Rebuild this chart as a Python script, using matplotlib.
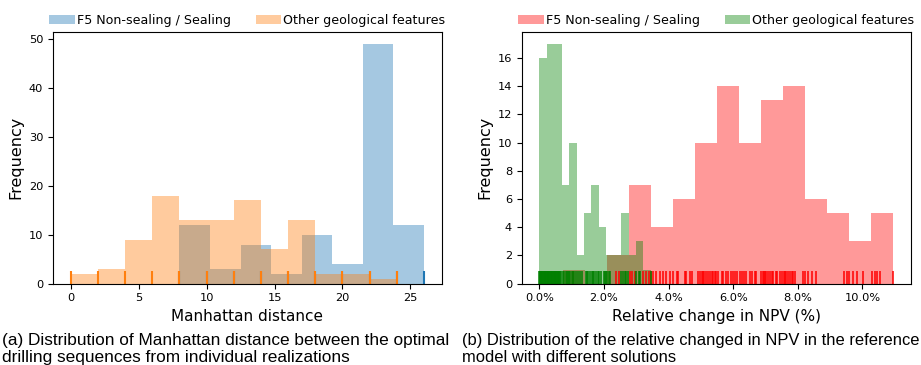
import matplotlib
matplotlib.use("Agg")
import matplotlib.pyplot as plt
from matplotlib.ticker import FuncFormatter
import numpy as np

# --- (a) Manhattan distance: histogram bins and counts
manh_f5_edges = [8, 10.25, 12.5, 14.75, 17, 19.25, 21.5, 23.75, 26]
manh_f5_counts = [12, 3, 8, 2, 10, 4, 49, 12]
manh_oth_edges = [0, 2, 4, 6, 8, 10, 12, 14, 16, 18, 20, 22, 24]
manh_oth_counts = [2, 3, 9, 18, 13, 13, 17, 7, 13, 2, 2, 1]
# rug positions (distinct values seen)
manh_f5_rug = [8, 10, 12, 14, 16, 18, 20, 22, 24, 26]
manh_oth_rug = [0, 2, 4, 6, 8, 10, 12, 14, 16, 18, 20, 22, 24]

# --- (b) relative change in NPV (%)
npv_f5_edges = [0.73, 1.41, 2.09, 2.77, 3.45, 4.13, 4.81, 5.50, 6.18,
                6.86, 7.54, 8.22, 8.91, 9.60, 10.28, 10.96]
npv_f5_counts = [1, 0, 2, 7, 4, 6, 10, 14, 10, 13, 14, 6, 5, 3, 5]
npv_oth_edges = [0.0, 0.23, 0.46, 0.69, 0.92, 1.15, 1.38, 1.61, 1.84,
                 2.07, 2.30, 2.53, 2.76, 2.99, 3.22, 3.45]
npv_oth_counts = [16, 17, 17, 7, 10, 2, 5, 7, 4, 2, 2, 5, 2, 3, 1]

npv_f5_rug = [1.05, 2.38, 2.46, 2.79, 2.87, 2.95, 3.22, 3.31, 3.38, 3.45,
              3.52, 3.62, 3.72, 3.83, 3.93, 4.03, 4.14, 4.26, 4.30, 4.50,
              4.55, 4.67, 4.74, 4.91, 4.98, 5.03, 5.07, 5.11, 5.15, 5.22,
              5.29, 5.34, 5.38, 5.43, 5.48, 5.54, 5.64, 5.69, 5.77, 5.84,
              5.92, 5.98, 6.05, 6.12, 6.20, 6.26, 6.33, 6.41, 6.51, 6.57,
              6.67, 6.72, 6.85, 6.91, 6.95, 6.99, 7.03, 7.08, 7.14, 7.19,
              7.24, 7.32, 7.36, 7.45, 7.52, 7.58, 7.62, 7.65, 7.70, 7.76,
              7.81, 7.86, 7.91, 8.17, 8.23, 8.32, 8.43, 8.56, 9.44, 9.51,
              9.60, 9.72, 9.84, 10.01, 10.29, 10.39, 10.46, 10.55, 10.96]
npv_oth_rug = [0.00, 0.01, 0.03, 0.04, 0.06, 0.08, 0.09, 0.11, 0.13, 0.14,
               0.16, 0.18, 0.19, 0.21, 0.23, 0.25, 0.26, 0.28, 0.30, 0.31,
               0.33, 0.35, 0.37, 0.38, 0.40, 0.42, 0.44, 0.45, 0.47, 0.49,
               0.51, 0.52, 0.54, 0.56, 0.58, 0.60, 0.62, 0.64, 0.66, 0.72,
               0.76, 0.81, 0.85, 0.88, 0.93, 0.96, 1.00, 1.03, 1.07, 1.12,
               1.19, 1.26, 1.32, 1.43, 1.47, 1.50, 1.57, 1.63, 1.66, 1.70,
               1.76, 1.80, 1.84, 1.91, 1.99, 2.03, 2.07, 2.10, 2.14, 2.17,
               2.53, 2.59, 2.66, 2.69, 2.74, 3.00, 3.07, 3.10, 3.46]

label_f5 = "F5 Non-sealing / Sealing"
label_oth = "Other geological features"

cap_a = ["(a) Distribution of Manhattan distance between the optimal",
         "drilling sequences from individual realizations"]
cap_b = ["(b) Distribution of the relative changed in NPV in the reference",
         "model with different solutions"]


def hist_rug(ax, edges, counts, rug, color, rugcolor, label, lw):
    ax.hist(edges[:-1], bins=edges, weights=counts, color=color,
            alpha=0.4, label=label, linewidth=0)
    ax.vlines(rug, 0, 0.05, transform=ax.get_xaxis_transform(),
              color=rugcolor, linewidth=lw)


fig = plt.figure(figsize=(9.21, 3.65), dpi=100)
ax1 = fig.add_axes([0.0575, 0.2227, 0.4221, 0.6905])
ax2 = fig.add_axes([0.5665, 0.2227, 0.4224, 0.6905])

hist_rug(ax1, manh_f5_edges, manh_f5_counts, manh_f5_rug,
         "tab:blue", "tab:blue", label_f5, 1.5)
hist_rug(ax1, manh_oth_edges, manh_oth_counts, manh_oth_rug,
         "tab:orange", "tab:orange", label_oth, 1.5)
ax1.set_xlim(-1.3, 27.3)
ax1.set_ylim(0, 51.45)
ax1.set_xticks([0, 5, 10, 15, 20, 25])
ax1.set_yticks([0, 10, 20, 30, 40, 50])
ax1.set_xlabel("Manhattan distance", fontsize=11)
ax1.set_ylabel("Frequency", fontsize=11.5)

hist_rug(ax2, npv_f5_edges, npv_f5_counts, npv_f5_rug,
         "red", "red", label_f5, 1.1)
hist_rug(ax2, npv_oth_edges, npv_oth_counts, npv_oth_rug,
         "green", "green", label_oth, 1.1)
ax2.set_xlim(-0.548, 11.5)
ax2.set_ylim(0, 17.85)
ax2.set_xticks([0, 2, 4, 6, 8, 10])
ax2.set_yticks(range(0, 17, 2))
ax2.xaxis.set_major_formatter(FuncFormatter(lambda v, p: "%.1f%%" % v))
ax2.set_xlabel("Relative change in NPV (%)", fontsize=11)
ax2.set_ylabel("Frequency", fontsize=11.5)

for ax in (ax1, ax2):
    ax.tick_params(labelsize=8.2)
    ax.legend(loc="lower center", bbox_to_anchor=(0.5, 0.995), ncol=2,
              frameon=False, fontsize=9.1, handletextpad=0.15,
              columnspacing=2.0, borderaxespad=0.1)

# captions: first line of each fills the column width, like the paper
renderer = fig.canvas.get_renderer()
for x0, width, lines in ((2, 448, cap_a), (462, 457, cap_b)):
    t = fig.text(x0 / 921, 1 - 345 / 365, lines[0], fontsize=10,
                 family="Liberation Sans", va="baseline")
    w = t.get_window_extent(renderer).width
    size = 10 * width / w
    t.set_fontsize(size)
    fig.text(x0 / 921, 1 - 362 / 365, lines[1], fontsize=size,
             family="Liberation Sans", va="baseline")

fig.savefig("out.png", dpi=100)
